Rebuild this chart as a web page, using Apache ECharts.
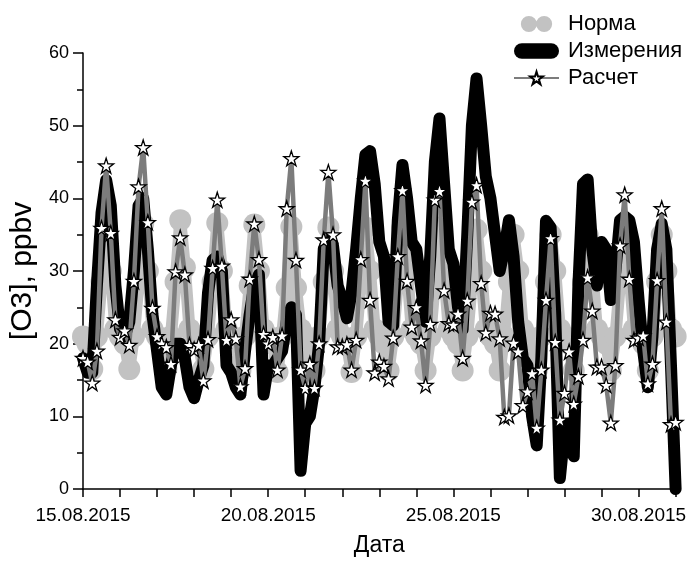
<!DOCTYPE html>
<html>
<head>
<meta charset="utf-8">
<script src="https://cdn.jsdelivr.net/npm/echarts@6/dist/echarts.min.js"></script>
<style>
  html, body { margin: 0; padding: 0; background: #fff; }
  #chart { width: 689px; height: 562px; }
</style>
</head>
<body>
<div id="chart"></div>
<script>
// time step between points: 3 hours, x axis counted in days from 15.08.2015 00:00
const stepDays = 3 / 24;
const dayLabels = ['15.08.2015', '20.08.2015', '25.08.2015', '30.08.2015'];

// Норма
const norm = [
  21, 20, 16.5, 21, 28.5, 36.5, 30, 22,
  21, 20, 16.5, 21, 28.5, 36.5, 30, 22,
  21, 20, 16.5, 21, 28.5, 37, 30.5, 22,
  21, 20, 16.5, 21, 28.5, 36.6, 30, 22,
  21, 20, 16.3, 21, 28, 36.4, 30, 22,
  21, 20, 16.1, 21, 27.7, 36.1, 27.7, 22,
  21, 16.3, 16.3, 21, 28.5, 36, 30, 22,
  21, 20, 16.1, 21, 28.5, 36, 30, 22,
  21, 20, 16.3, 21, 28.5, 36, 30, 22,
  21, 20, 16.3, 21, 28.5, 36, 30, 22,
  21, 20, 16.3, 21, 28.5, 35.7, 30, 22,
  21, 20, 16.3, 21, 28.5, 35, 30, 22,
  21, 20, 16.3, 21, 28.5, 35, 30, 22,
  21, 20, 16.3, 21, 28.5, 35, 30, 22,
  21, 20, 16.3, 21, 28.5, 35, 30, 22,
  21, 20, 16.3, 21, 28.5, 35, 30, 22,
  21
];

// Измерения
const meas = [
  18, 16, 16, 28, 38, 42.5, 39, 28,
  22, 21, 23, 30, 39, 40, 33, 24,
  19, 14, 13, 17, 20, 20, 18, 14,
  12.5, 15, 17, 27, 31.5, 32, 30, 17,
  16, 14, 13, 19, 24, 28, 29.5, 13,
  17, 17, 18, 19, 23, 25, 24, 2.5,
  9, 10, 14, 20, 33, 34.5, 33.5, 28,
  26, 23.5, 27, 33, 40, 46, 46.5, 42,
  34, 32, 23, 22.5, 37, 44.6, 40, 34,
  33, 28, 23, 32, 45, 51, 42, 33,
  31, 25, 22, 35, 50, 56.5, 50, 43,
  40, 35, 30, 33, 37, 32, 23, 18,
  17, 10, 6, 18, 36.9, 36, 24, 1.5,
  8, 9, 4.5, 28, 42, 42.6, 33, 28,
  34, 33, 26, 30, 37, 37.5, 37, 34,
  26, 19, 14, 21, 33, 36.5, 33, 17,
  0
];

// Расчет
const calc = [
  18, 17.5, 14.6, 19.0, 35.9, 44.5, 35.2, 23.3,
  20.9, 21.8, 19.8, 28.6, 41.6, 47.0, 36.7, 24.9,
  21.0, 20.0, 19.5, 17.2, 29.9, 34.6, 29.5, 19.8,
  19.2, 19.8, 14.9, 20.6, 30.4, 39.8, 30.7, 20.5,
  23.3, 20.7, 14.1, 16.6, 28.9, 36.5, 31.6, 21.3,
  20.0, 20.9, 16.4, 21.1, 38.6, 45.5, 31.5, 16.4,
  13.9, 17.2, 13.9, 20.0, 34.3, 43.6, 35.0, 19.6,
  19.6, 19.9, 16.4, 20.5, 31.6, 42.4, 26.0, 16.0,
  17.5, 16.9, 15.2, 20.8, 32.0, 41.1, 28.6, 22.3,
  25.0, 20.4, 14.3, 22.7, 39.8, 41.0, 27.3, 22.8,
  22.6, 24.1, 18.0, 25.9, 39.5, 41.8, 28.3, 21.5,
  24.2, 24.1, 20.7, 9.9, 10.1, 20.1, 18.9, 11.5,
  13.4, 15.9, 8.4, 16.4, 26.0, 34.5, 20.2, 9.5,
  13.2, 18.9, 11.7, 15.5, 20.5, 29.1, 24.5, 16.8,
  16.8, 14.3, 9.1, 17.0, 33.5, 40.5, 28.9, 20.5,
  20.8, 21.1, 14.5, 17.2, 28.7, 38.6, 23.0, 8.9,
  9.2
];

const toPoints = arr => arr.map((v, i) => [i * stepDays, v]);

const starPath = 'path://M50,2 L61.8,38.2 L99.5,38.2 L69,60.6 L80.6,96.5 L50,74.2 L19.4,96.5 L31,60.6 L0.5,38.2 L38.2,38.2 Z';
// two overlapping grey dots, as in the original legend
const twoCircles = 'path://M0,11 A11,11 0 1,0 22,11 A11,11 0 1,0 0,11 Z M21,11 A11,11 0 1,0 43,11 A11,11 0 1,0 21,11 Z';
const pill = 'path://M8,0 L38,0 A8,8 0 0,1 38,16 L8,16 A8,8 0 0,1 8,0 Z';
const font = "'Liberation Sans', Arial, sans-serif";

const chart = echarts.init(document.getElementById('chart'), null, { renderer: 'canvas' });

const option = {
  animation: false,
  backgroundColor: '#fff',
  grid: { left: 81, right: 10, top: 53, bottom: 69, containLabel: false },
  legend: {
    orient: 'vertical',
    left: 508,
    top: 8,
    itemWidth: 45,
    itemHeight: 16,
    itemGap: 5,
    textStyle: { fontFamily: font, fontSize: 22, lineHeight: 22, color: '#000', padding: [0, 0, 0, 4] },
    data: [
      { name: 'Норма', icon: twoCircles, itemStyle: { color: '#c2c2c2' } },
      { name: 'Измерения', icon: pill, itemStyle: { color: '#000' } },
      { name: 'Расчет' }
    ]
  },
  xAxis: {
    type: 'value',
    min: 0,
    max: 16,
    interval: 1,
    name: 'Дата',
    nameLocation: 'middle',
    nameGap: 45,
    nameTextStyle: { fontFamily: font, fontSize: 23, color: '#000' },
    axisLine: { lineStyle: { color: '#000', width: 1.5 } },
    axisTick: { length: 8, lineStyle: { color: '#000', width: 1.5 } },
    axisLabel: {
      fontFamily: font, fontSize: 19, color: '#000', margin: 17,
      formatter: v => (v % 5 === 0 ? dayLabels[v / 5] : '')
    },
    splitLine: { show: false }
  },
  yAxis: {
    type: 'value',
    min: 0,
    max: 60,
    interval: 10,
    name: '[O3], ppbv',
    nameLocation: 'middle',
    nameGap: 45,
    nameTextStyle: { fontFamily: font, fontSize: 30, color: '#000' },
    axisLine: { show: true, lineStyle: { color: '#000', width: 1.5 } },
    axisTick: { length: 10, lineStyle: { color: '#000', width: 1.5 } },
    minorTick: { show: true, splitNumber: 2, length: 6, lineStyle: { color: '#000', width: 1.5 } },
    axisLabel: { fontFamily: font, fontSize: 18, color: '#000', margin: 14 },
    splitLine: { show: false }
  },
  series: [
    {
      name: 'Норма',
      type: 'line',
      data: toPoints(norm),
      symbol: 'circle',
      symbolSize: 22,
      showAllSymbol: true,
      itemStyle: { color: '#c2c2c2' },
      lineStyle: { color: '#c2c2c2', width: 12, join: 'round' },
      z: 1
    },
    {
      name: 'Измерения',
      type: 'line',
      data: toPoints(meas),
      symbol: 'none',
      itemStyle: { color: '#000' },
      lineStyle: { color: '#000', width: 12, cap: 'round', join: 'round' },
      z: 2
    },
    {
      name: 'Расчет',
      type: 'line',
      data: toPoints(calc),
      symbol: starPath,
      symbolSize: 15,
      showAllSymbol: true,
      itemStyle: { color: '#fff', borderColor: '#000', borderWidth: 1.3 },
      lineStyle: { color: '#7c7c7c', width: 4.5, join: 'round' },
      z: 3
    }
  ]
};

chart.setOption(option);
</script>
</body>
</html>
